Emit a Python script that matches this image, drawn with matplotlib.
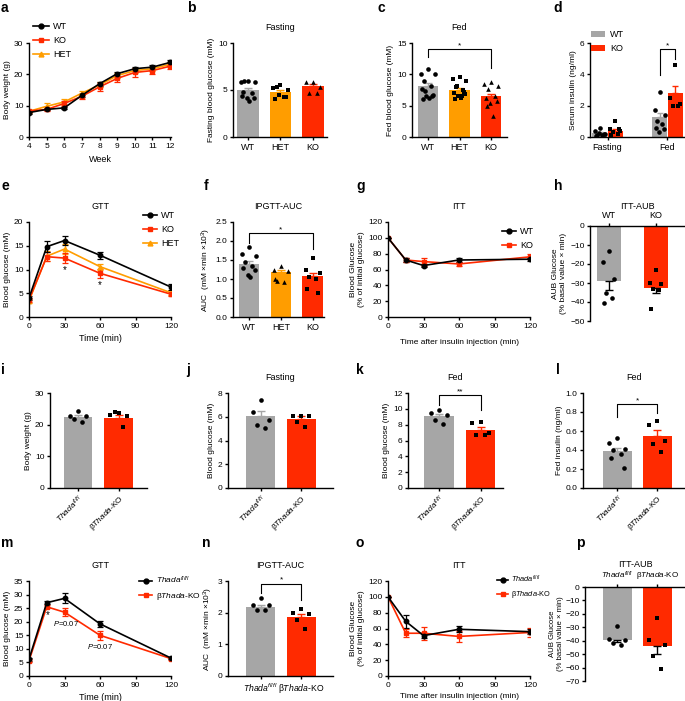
import matplotlib
matplotlib.use("Agg")
import matplotlib.pyplot as plt
from matplotlib.lines import Line2D
import numpy as np

plt.rcParams['font.family'] = ['Liberation Sans', 'DejaVu Sans']
plt.rcParams['mathtext.fontset'] = 'custom'
plt.rcParams['mathtext.rm'] = 'Liberation Sans'
plt.rcParams['mathtext.it'] = 'Liberation Sans:italic'
plt.rcParams['font.size'] = 6
plt.rcParams['axes.linewidth'] = 1.0
for a in ('xtick', 'ytick'):
    plt.rcParams[a + '.major.width'] = 1.0
    plt.rcParams[a + '.major.size'] = 2.5
    plt.rcParams[a + '.major.pad'] = 1.5
    plt.rcParams[a + '.labelsize'] = 6

GRAY = '#a6a6a6'
ORANGE = '#ff9d00'
RED = '#ff2a00'
FLOX = r'$\it{Thada}^{fl/fl}$'
BKO = r'β$\it{Thada}$-KO'

# ---- data ----
weeks = [4, 5, 6, 7, 8, 9, 10, 11, 12]
bw_wt = [7.8, 8.8, 9.3, 13.3, 17.0, 20.2, 21.8, 22.3, 23.8]
bw_wt_err = [0.3, 0.3, 0.4, 0.5, 0.6, 0.6, 0.7, 0.6, 0.7]
bw_ko = [8.3, 8.8, 10.7, 13.0, 16.0, 18.7, 20.6, 21.2, 22.6]
bw_ko_err = [0.4, 0.4, 0.7, 0.8, 1.2, 1.3, 1.3, 1.2, 1.0]
bw_het = [8.2, 9.8, 11.2, 14.0, 16.6, 19.6, 21.2, 21.8, 23.2]
bw_het_err = [0.4, 1.0, 0.9, 0.7, 0.8, 0.8, 0.8, 0.7, 0.7]

groups3 = ['WT', 'HET', 'KO']
fast_pts = [[5.95, 5.8, 5.8, 5.95, 4.65, 4.4, 4.2, 4.1, 3.8, 4.8],
            [5.5, 5.25, 5.0, 5.3, 4.3, 4.05, 4.3, 4.5],
            [5.9, 5.9, 5.3, 4.7, 4.7]]
fast_mean = [5.0, 4.8, 5.4]
fast_err = [0.22, 0.16, 0.2]

fed_pts = [[10.8, 10.1, 10.0, 9.0, 8.2, 7.7, 6.7, 6.6, 6.2, 6.0, 6.6, 7.3],
           [9.5, 9.2, 9.0, 8.0, 7.5, 7.0, 6.8, 6.5, 6.3, 6.0, 7.2, 8.2, 6.5],
           [8.7, 8.5, 8.2, 7.6, 6.5, 6.2, 5.7, 5.5, 3.4, 5.0]]
fed_mean = [8.1, 7.5, 6.5]
fed_err = [0.5, 0.3, 0.4]

ins_groups = ['Fasting', 'Fed']
ins_wt_pts = [[0.6, 0.4, 0.2, 0.15, 0.1, 0.05, 0.2, 0.25],
              [2.9, 1.7, 1.4, 1.0, 0.8, 0.6, 0.5, 0.3]]
ins_ko_pts = [[1.0, 0.5, 0.4, 0.3, 0.2, 0.1, 0.5],
              [4.6, 2.5, 2.1, 2.0, 2.0]]
ins_wt_mean = [0.25, 1.3]
ins_wt_err = [0.08, 0.25]
ins_ko_mean = [0.4, 2.8]
ins_ko_err = [0.12, 0.45]

gtt_t = [0, 15, 30, 60, 120]
gtt_wt = [4.0, 14.8, 16.1, 13.0, 6.3]
gtt_wt_err = [0.5, 1.2, 1.0, 0.7, 0.6]
gtt_ko = [3.6, 12.7, 12.4, 9.2, 4.8]
gtt_ko_err = [0.4, 1.0, 1.1, 1.0, 0.4]
gtt_het = [3.4, 12.8, 14.3, 10.6, 5.1]
gtt_het_err = [0.4, 1.0, 1.0, 0.6, 0.5]

auc_pts = [[1.85, 1.65, 1.6, 1.45, 1.35, 1.3, 1.25, 1.1, 1.05],
           [1.35, 1.25, 1.22, 0.95, 0.92, 1.0],
           [1.55, 1.25, 1.15, 1.06, 0.99, 0.75, 0.62]]
auc_mean = [1.40, 1.18, 1.07]
auc_err = [0.08, 0.07, 0.1]

itt_t = [0, 15, 30, 60, 120]
itt_wt = [100, 72, 65, 72, 73]
itt_wt_err = [0, 3, 2, 2, 2]
itt_ko = [100, 72, 70, 67, 76]
itt_ko_err = [0, 3, 5, 2, 3]

aub_groups = ['WT', 'KO']
aub_pts = [[-13, -19, -28, -35, -38, -40.5],
           [-23, -30, -30.5, -33.2, -33.5, -43.5]]
aub_mean = [-29, -32.5]
aub_err = [4.5, 2.5]

b_groups = [FLOX, BKO]
i_pts = [[24.2, 22.8, 22.8, 21.9, 20.9], [23.8, 22.9, 22.6, 23.9, 19.2]]
i_mean = [22.5, 22.2]
i_err = [0.6, 0.8]
j_pts = [[7.4, 6.4, 5.7, 5.3, 5.05], [6.1, 6.1, 6.1, 5.6, 5.15]]
j_mean = [6.05, 5.85]
j_err = [0.4, 0.2]
k_pts = [[9.9, 9.5, 9.2, 8.6, 8.1], [8.3, 8.2, 6.9, 6.7, 6.7]]
k_mean = [9.1, 7.35]
k_err = [0.3, 0.3]
l_pts = [[0.53, 0.47, 0.41, 0.40, 0.36, 0.32, 0.21], [0.71, 0.66, 0.49, 0.46, 0.38]]
l_mean = [0.39, 0.55]
l_err = [0.03, 0.06]

m_wt = [6.2, 27.0, 28.6, 19.2, 6.6]
m_wt_err = [0.5, 0.5, 1.8, 1.2, 0.4]
m_ko = [5.6, 25.5, 23.5, 15.0, 6.4]
m_ko_err = [0.5, 0.5, 1.5, 1.7, 0.4]

n_pts = [[2.45, 2.24, 2.24, 2.08, 2.08], [2.13, 1.98, 1.96, 1.76, 1.48]]
n_mean = [2.18, 1.85]
n_err = [0.07, 0.1]

o_wt = [100, 69, 51, 59, 56]
o_wt_err = [0, 8, 3, 4, 3]
o_ko = [100, 54, 54, 50, 55]
o_ko_err = [0, 5, 8, 7, 6]

p_pts = [[-29.2, -39.0, -39.6, -42.0, -43.3], [-23.0, -39.6, -43.3, -51.2, -61.4]]
p_mean = [-39.3, -44.3]
p_err = [1.5, 5.7]

# ---- figure ----
W, H = 685, 701
fig = plt.figure(figsize=(W / 100, H / 100), dpi=100)


def add_ax(l, t, r, b):
    ax = fig.add_axes([l / W, 1 - b / H, (r - l) / W, (b - t) / H])
    ax.spines[['top', 'right']].set_visible(False)
    return ax


def letter(x, y, s):
    fig.text(x / W, 1 - y / H, s, fontsize=10, fontweight='bold', va='center', ha='left')


def spread(n, w=0.2):
    pat = [0, -1, 1, -0.5, 0.5, -0.8, 0.8, -0.2, 0.2, -0.65, 0.65, -0.35, 0.35]
    return np.array([pat[i % len(pat)] for i in range(n)]) * w


def bars(ax, means, errs, pts, colors, markers, width=0.65, w=0.2, errcol=None, down=False):
    x = np.arange(len(means))
    ax.bar(x, means, width=width, color=colors, zorder=1)
    for i in range(len(means)):
        ec = errcol or colors[i]
        ax.errorbar(x[i], means[i], yerr=[[errs[i] if down else 0], [0 if down else errs[i]]],
                    color=ec, capsize=3, elinewidth=1, capthick=1, zorder=2)
        ax.scatter(x[i] + spread(len(pts[i]), w), pts[i], s=11, marker=markers[i],
                   color='black', zorder=3, linewidths=0)
    ax.set_xticks(x)


def bracket(ax, x1, x2, y, y1, y2, text):
    ax.plot([x1, x1, x2, x2], [y1, y, y, y2], color='black', lw=0.8)
    ax.text((x1 + x2) / 2, y, text, ha='center', va='bottom', fontsize=6)


def legend(ax, x, y, entries, handlelength=1.8, fs=6.5):
    hs = [Line2D([], [], color=c, marker=m, ms=3.5, lw=1.2) for c, m, _ in entries]
    ax.legend(hs, [t for _, _, t in entries], loc='upper left',
              bbox_to_anchor=(x / W, 1 - y / H), bbox_transform=fig.transFigure,
              frameon=False, fontsize=fs, handlelength=handlelength, handletextpad=0.4,
              labelspacing=0.55, borderpad=0, borderaxespad=0)


def errline(ax, t, m, e, col, mk):
    ax.errorbar(t, m, yerr=e, color=col, marker=mk, ms=3.2, lw=1.2, capsize=2.5,
                elinewidth=0.9, capthick=0.9)


# a
ax = add_ax(29, 43, 171, 137)
errline(ax, weeks, bw_het, bw_het_err, ORANGE, '^')
errline(ax, weeks, bw_ko, bw_ko_err, RED, 's')
errline(ax, weeks, bw_wt, bw_wt_err, 'black', 'o')
ax.set_xlim(4, 12.05)
ax.set_ylim(0, 30)
ax.set_xticks(weeks)
ax.set_yticks([0, 10, 20, 30])
ax.set_xlabel('Week', fontsize=6.5, labelpad=4)
ax.set_ylabel('Body weight (g)', fontsize=6, labelpad=2)
legend(ax, 33, 22, [('black', 'o', 'WT'), (RED, 's', 'KO'), (ORANGE, '^', 'HET')])
letter(1, 8, 'a')

# b
ax = add_ax(233, 43, 327, 137)
bars(ax, fast_mean, fast_err, fast_pts, [GRAY, ORANGE, RED], ['o', 's', '^'], w=0.22)
ax.set_xticklabels(groups3, fontsize=6.5)
ax.set_xlim(-0.46, 2.43)
ax.set_ylim(0, 10)
ax.set_yticks([0, 5, 10])
ax.set_ylabel('Fasting blood glucose (mM)', fontsize=6, labelpad=2)
ax.set_title('Fasting', fontsize=6.5, pad=9)
letter(187, 8, 'b')

# c
ax = add_ax(412, 43, 507, 137)
bars(ax, fed_mean, fed_err, fed_pts, [GRAY, ORANGE, RED], ['o', 's', '^'], w=0.22)
bracket(ax, 0, 2, 14.0, 12.7, 10.95, '*')
ax.set_xticklabels(groups3, fontsize=6.5)
ax.set_xlim(-0.5, 2.5)
ax.set_ylim(0, 15)
ax.set_yticks([0, 5, 10, 15])
ax.set_ylabel('Fed blood glucose (mM)', fontsize=6, labelpad=2)
ax.set_title('Fed', fontsize=6.5, pad=9)
letter(378, 8, 'c')

# d
ax = add_ax(590, 43, 685, 137)
xc = np.array([0.5, 2.2])
bw = 0.42
ax.bar(xc - 0.22, ins_wt_mean, width=bw, color=GRAY, label='WT', zorder=1)
ax.bar(xc + 0.22, ins_ko_mean, width=bw, color=RED, label='KO', zorder=1)
for i in range(2):
    ax.errorbar(xc[i] - 0.22, ins_wt_mean[i], yerr=[[0], [ins_wt_err[i]]], color=GRAY,
                capsize=2.5, elinewidth=1, zorder=2)
    ax.errorbar(xc[i] + 0.22, ins_ko_mean[i], yerr=[[0], [ins_ko_err[i]]], color=RED,
                capsize=2.5, elinewidth=1, zorder=2)
    ax.scatter(xc[i] - 0.22 + spread(len(ins_wt_pts[i]), 0.14), ins_wt_pts[i], s=11,
               marker='o', color='black', zorder=3, linewidths=0)
    ax.scatter(xc[i] + 0.22 + spread(len(ins_ko_pts[i]), 0.14), ins_ko_pts[i], s=11,
               marker='s', color='black', zorder=3, linewidths=0)
bracket(ax, xc[1] - 0.22, xc[1] + 0.22, 5.6, 3.95, 5.0, '*')
ax.set_xticks(xc)
ax.set_xticklabels(ins_groups, fontsize=6.5)
ax.set_xlim(0, 2.7)
ax.set_ylim(0, 6)
ax.set_yticks([0, 2, 4, 6])
ax.set_ylabel('Serum insulin (ng/ml)', fontsize=6, labelpad=2)
ax.legend(loc='upper left', bbox_to_anchor=(591 / W, 1 - 30 / H), bbox_transform=fig.transFigure,
          frameon=False, fontsize=6.5, handlelength=1.6, handletextpad=0.5,
          labelspacing=0.55, borderpad=0, borderaxespad=0)
letter(553, 8, 'd')

# e
ax = add_ax(29, 222, 171, 317)
errline(ax, gtt_t, gtt_het, gtt_het_err, ORANGE, '^')
errline(ax, gtt_t, gtt_ko, gtt_ko_err, RED, 's')
errline(ax, gtt_t, gtt_wt, gtt_wt_err, 'black', 'o')
ax.text(30, 9.9, '*', ha='center', va='center', fontsize=7)
ax.text(60, 6.7, '*', ha='center', va='center', fontsize=7)
ax.set_xlim(0, 120)
ax.set_ylim(0, 20)
ax.set_xticks([0, 30, 60, 90, 120])
ax.set_yticks([0, 5, 10, 15, 20])
ax.set_xlabel('Time (min)', fontsize=6.5, labelpad=3)
ax.set_ylabel('Blood glucose (mM)', fontsize=6, labelpad=2)
ax.set_title('GTT', fontsize=6.5, pad=9)
legend(ax, 143, 211, [('black', 'o', 'WT'), (RED, 's', 'KO'), (ORANGE, '^', 'HET')], 1.6)
letter(1, 186, 'e')

# f
ax = add_ax(233, 222, 324, 317)
bars(ax, auc_mean, auc_err, auc_pts, [GRAY, ORANGE, RED], ['o', '^', 's'], w=0.22)
bracket(ax, 0, 2, 2.2, 1.96, 1.79, '*')
ax.set_xticklabels(groups3, fontsize=6.5)
ax.set_xlim(-0.5, 2.35)
ax.set_ylim(0, 2.5)
ax.set_yticks([0, 0.5, 1.0, 1.5, 2.0, 2.5])
ax.set_yticklabels(['0.0', '0.5', '1.0', '1.5', '2.0', '2.5'])
ax.set_ylabel('AUC  (mM ×min ×10$^3$)', fontsize=6, labelpad=2)
ax.set_title('IPGTT-AUC', fontsize=6.5, pad=9)
letter(204, 186, 'f')

# g
ax = add_ax(388, 222, 530, 317)
errline(ax, itt_t, itt_ko, itt_ko_err, RED, 's')
errline(ax, itt_t, itt_wt, itt_wt_err, 'black', 'o')
ax.set_xlim(0, 120)
ax.set_ylim(0, 120)
ax.set_xticks([0, 30, 60, 90, 120])
ax.set_yticks(range(0, 121, 20))
ax.set_xlabel('Time after insulin injection (min)', fontsize=6, labelpad=7)
ax.set_ylabel('Blood Glucose\n(% of initial glucose)', fontsize=6, labelpad=2)
ax.set_title('ITT', fontsize=6.5, pad=9)
legend(ax, 502, 227, [('black', 'o', 'WT'), (RED, 's', 'KO')], 1.6)
letter(356, 186, 'g')

# h
ax = add_ax(590, 226, 685, 321)
bars(ax, aub_mean, aub_err, aub_pts, [GRAY, RED], ['o', 's'], width=0.51, w=0.12,
     errcol='black', down=True)
ax.spines['bottom'].set_visible(False)
ax.spines['top'].set_visible(True)
ax.xaxis.tick_top()
ax.set_xticklabels(aub_groups, fontsize=6.5)
ax.set_xlim(-0.4, 1.62)
ax.set_ylim(-50, 0)
ax.set_yticks(range(-50, 1, 10))
ax.set_ylabel('AUB Glucose\n(% basal value × min)', fontsize=6, labelpad=2)
ax.set_title('ITT-AUB', fontsize=6.5, pad=2)
letter(554, 186, 'h')

# i-l
rot = dict(rotation=45, ha='right', rotation_mode='anchor', fontsize=6)
for (l, r), lab, ylim, yt, ylab, title, data, xl, let in [
        ((50, 147), 'i', 30, [0, 10, 20, 30], 'Body weight (g)', None, (i_mean, i_err, i_pts), (-0.69, 1.7), (1, 370)),
        ((228, 333), 'j', 8, [0, 2, 4, 6, 8], 'Blood glucose (mM)', 'Fasting', (j_mean, j_err, j_pts), (-0.81, 1.78), (186, 370)),
        ((408, 503), 'k', 12, list(range(0, 13, 2)), 'Blood glucose (mM)', 'Fed', (k_mean, k_err, k_pts), (-0.75, 1.54), (356, 370)),
        ((583, 685), 'l', 1.0, [0, 0.2, 0.4, 0.6, 0.8, 1.0], 'Fed insulin (ng/ml)', 'Fed', (l_mean, l_err, l_pts), (-0.86, 1.69), (556, 370))]:
    ax = add_ax(l, 393, r, 488)
    bars(ax, data[0], data[1], data[2], [GRAY, RED], ['o', 's'], width=0.71, w=0.2)
    ax.set_xticklabels(b_groups, **rot)
    ax.set_xlim(*xl)
    ax.set_ylim(0, ylim)
    ax.set_yticks(yt)
    if lab == 'l':
        ax.set_yticklabels(['%.1f' % v for v in yt])
        bracket(ax, 0, 1, 0.88, 0.75, 0.79, '*')
    if lab == 'k':
        bracket(ax, 0, 1, 11.7, 10.5, 9.9, '**')
    ax.set_ylabel(ylab, fontsize=6, labelpad=2)
    if title:
        ax.set_title(title, fontsize=6.5, pad=9)
    letter(let[0], let[1], lab)

# m
ax = add_ax(29, 581, 171, 676)
errline(ax, gtt_t, m_ko, m_ko_err, RED, 's')
errline(ax, gtt_t, m_wt, m_wt_err, 'black', 'o')
ax.text(15.5, 22.5, '*', ha='center', va='center', fontsize=7)
ax.text(31, 19.3, r'$\it{P}$=0.07', ha='center', va='center', fontsize=5.5)
ax.text(60, 10.9, r'$\it{P}$=0.07', ha='center', va='center', fontsize=5.5)
ax.set_xlim(0, 120)
ax.set_ylim(0, 35)
ax.set_xticks([0, 30, 60, 90, 120])
ax.set_yticks(range(0, 36, 5))
ax.set_xlabel('Time (min)', fontsize=6.5, labelpad=3)
ax.set_ylabel('Blood glucose (mM)', fontsize=6, labelpad=2)
ax.set_title('GTT', fontsize=6.5, pad=9)
legend(ax, 139, 575, [('black', 'o', FLOX), (RED, 's', BKO)], 1.6, fs=6)
letter(1, 543, 'm')

# n
ax = add_ax(228, 581, 333, 676)
bars(ax, n_mean, n_err, n_pts, [GRAY, RED], ['o', 's'], width=0.71, w=0.2)
bracket(ax, 0, 1, 2.92, 2.63, 2.4, '*')
ax.set_xticklabels(b_groups, fontsize=6.2)
ax.set_xlim(-0.81, 1.78)
ax.set_ylim(0, 3)
ax.set_yticks([0, 1, 2, 3])
ax.set_ylabel('AUC  (mM ×min ×10$^3$)', fontsize=6, labelpad=2)
ax.set_title('IPGTT-AUC', fontsize=6.5, pad=9)
letter(202, 543, 'n')

# o
ax = add_ax(388, 581, 530, 676)
errline(ax, itt_t, o_ko, o_ko_err, RED, 's')
errline(ax, itt_t, o_wt, o_wt_err, 'black', 'o')
ax.set_xlim(0, 120)
ax.set_ylim(0, 120)
ax.set_xticks([0, 30, 60, 90, 120])
ax.set_yticks(range(0, 121, 20))
ax.set_xlabel('Time after insulin injection (min)', fontsize=6, labelpad=3)
ax.set_ylabel('Blood Glucose\n(% of initial glucose)', fontsize=6, labelpad=2)
ax.set_title('ITT', fontsize=6.5, pad=9)
legend(ax, 497, 574, [('black', 'o', FLOX), (RED, 's', BKO)], 1.5, fs=5.3)
letter(356, 543, 'o')

# p
ax = add_ax(585, 587, 685, 681)
bars(ax, p_mean, p_err, p_pts, [GRAY, RED], ['o', 's'], width=0.71, w=0.2,
     errcol='black', down=True)
ax.spines['bottom'].set_visible(False)
ax.spines['top'].set_visible(True)
ax.xaxis.tick_top()
ax.set_xticklabels(b_groups, fontsize=5.8)
ax.set_xlim(-0.81, 1.69)
ax.set_ylim(-70, 0)
ax.set_yticks(range(-70, 1, 10))
ax.set_ylabel('AUB Glucose\n(% basal value × min)', fontsize=5.6, labelpad=1,
              linespacing=1.05)
ax.set_title('ITT-AUB', fontsize=6.5, pad=2)
letter(576, 543, 'p')

fig.savefig('out.png', dpi=100)
